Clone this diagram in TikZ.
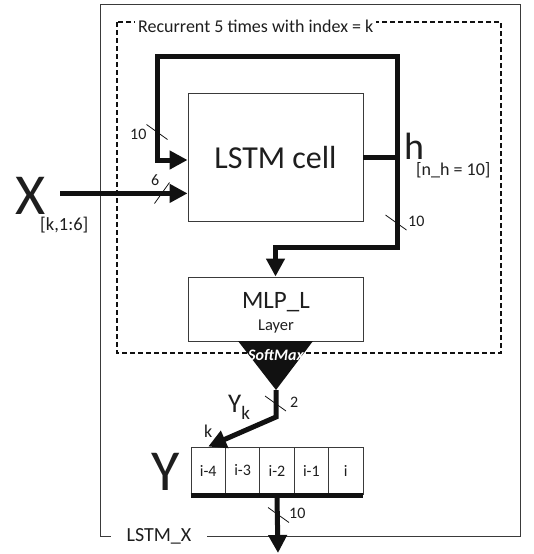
\documentclass[tikz,border=0pt]{standalone}
\usepackage{fontspec}
\setmainfont{Carlito}
\usetikzlibrary{arrows.meta,positioning,calc}
\definecolor{ink}{HTML}{111111}
\definecolor{frame}{HTML}{3A3A3A}
\definecolor{txt}{HTML}{1E1E1E}

\begin{document}
\begin{tikzpicture}[x=1pt,y=-1pt,
  box/.style={draw=frame,line width=0.9pt,inner sep=0pt,text=txt},
  bus/.style={ink,line width=5pt},
  head/.style={-{Triangle[length=18pt,width=18pt]}},
  tickmark/.style={ink,line width=0.8pt},
  lab/.style={text=txt,inner sep=0pt,anchor=base west,font=\fontsize{16}{16}\selectfont}]
  \useasboundingbox (0,0) rectangle (534,554);

  % outer block and the recurrent region
  \draw[frame,line width=1pt] (100,4) rectangle (520,536);
  \node[fill=white,inner xsep=16pt,inner ysep=3pt,anchor=base,text=txt,font=\fontsize{20}{20}\selectfont] (lstmx) at (159,541) {LSTM\_X};
  \draw[ink,line width=1.3pt,dash pattern=on 5pt off 3pt] (117,22) rectangle (501,353);
  \node[fill=white,inner sep=3pt,anchor=base west,text=txt,font=\fontsize{18}{18}\selectfont] (rec) at (135,32) {Recurrent 5 times with index = k};

  % blocks
  \node[box,minimum width=175pt,minimum height=128pt,font=\fontsize{32}{32}\selectfont] (cell) at (275.5,157) {LSTM cell};
  \node[box,minimum width=175pt,minimum height=64pt] (mlp) at (275.5,309) {};
  \node[anchor=base,inner sep=0pt,text=txt,font=\fontsize{25}{25}\selectfont] (mlpname) at (276,308) {MLP\_L};
  \node[anchor=base,inner sep=0pt,text=txt,font=\fontsize{16.5}{16.5}\selectfont] (mlpkind) at (276,330) {Layer};
  \coordinate (smax) at (276,390);
  \fill[ink] (238,341) -- (313,341) -- (smax) -- cycle;
  \node[text=white,inner sep=0pt,anchor=base,font=\fontsize{16}{16}\selectfont\bfseries\itshape] (sm) at (276,360) {SoftMax};

  % output buffer
  \foreach \lab [count=\i] in {i-4,i-3,i-2,i-1,i}
    \node[box,minimum width=34.4pt,minimum height=47pt,font=\fontsize{16}{16}\selectfont] (y\i) at ({208.2+34.4*(\i-1)},470.5) {\lab};
  \draw[bus] ([yshift=-1.5pt]y1.south west) -- ([yshift=-1.5pt]y5.south east);

  % signals
  \node[anchor=base,inner sep=0pt,text=txt,font=\fontsize{58}{58}\selectfont] (X) at (31,214) {X};
  \coordinate (xin) at ([xshift=14pt,yshift=2pt]X.east);
  \draw[bus,head] (xin) -- (xin -| cell.west);
  \coordinate (hsplit) at ([xshift=34pt]cell.east);
  \coordinate (looptop) at (157,56);
  \draw[bus] (cell.east) -- (hsplit);
  \draw[bus,head] (hsplit) |- (looptop) |- ([yshift=-3pt]cell.west);
  \draw[bus,head] (hsplit) |- ($(mlp.north)+(0,-29)$) -- (mlp.north);
  \coordinate (bend) at (276,417);
  \draw[bus,head] (smax) -- (bend) -- (y1.north);
  \coordinate (yout) at (278,553);
  \draw[bus,head] ([yshift=-3pt]y3.south) -- (yout);

  % bus widths
  \foreach \cx/\cy in {157/132, 396/222.5, 275.5/403.5, 278.5/515}
    \draw[tickmark] (\cx-10.5,\cy-7.5) -- (\cx+10.5,\cy+7.5);
  \draw[tickmark] (154.5,203.5) -- (169.5,182.5);

  % labels
  \node[lab] at (130,139) {10};
  \node[lab] at (151,185) {6};
  \node[lab] at (408,226) {10};
  \node[lab] at (290,407) {2};
  \node[lab] at (289,518) {10};
  \node[lab,font=\fontsize{18.5}{18.5}\selectfont] (xidx) at (40,230) {[k,1:6]};
  \node[lab,font=\fontsize{38}{38}\selectfont] (hlab) at (404,159) {h};
  \node[lab,font=\fontsize{18}{18}\selectfont] (hdim) at (416,175) {[n\_h = 10]};
  \node[lab,font=\fontsize{27}{27}\selectfont] (yk) at (228,412) {Y\raisebox{-7pt}{\fontsize{19}{19}\selectfont k}};
  \node[lab,font=\fontsize{18}{18}\selectfont] (kpos) at (204,437) {k};
  \node[lab,font=\fontsize{58}{58}\selectfont] (Ylab) at (151,490) {Y};
\end{tikzpicture}
\end{document}
